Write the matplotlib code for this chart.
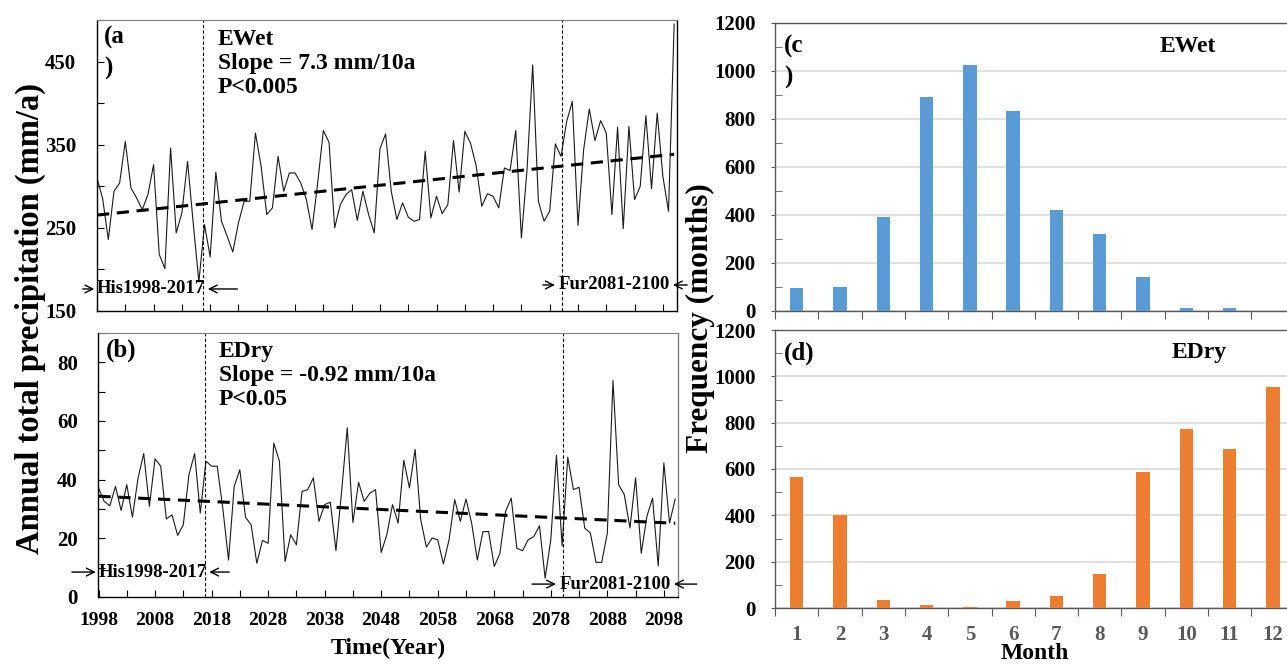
import numpy as np
import matplotlib
matplotlib.use("Agg")
import matplotlib.pyplot as plt
from matplotlib.ticker import MultipleLocator, FixedLocator, NullFormatter, FixedFormatter

plt.rcParams['font.family'] = ['Liberation Serif', 'DejaVu Serif']
plt.rcParams['font.weight'] = 'bold'
plt.rcParams['axes.labelweight'] = 'bold'

# ---- data ----
years = np.arange(1998, 2101)

wet = [310, 285, 236, 294, 304, 354, 298, 286, 272, 290,
       326, 218, 201, 346, 244, 268, 330, 256, 185, 254,
       215, 317, 258, 240, 221, 256, 282, 282, 364, 324,
       266, 274, 336, 294, 316, 316, 304, 284, 248, 304,
       367, 353, 250, 278, 290, 296, 259, 294, 266, 244,
       345, 363, 294, 260, 280, 263, 258, 260, 342, 262,
       288, 267, 278, 355, 293, 366, 352, 325, 276, 291,
       288, 274, 322, 319, 367, 238, 320, 446, 282, 258,
       270, 351, 336, 378, 402, 253, 344, 393, 355, 379,
       364, 266, 371, 249, 372, 284, 300, 385, 297, 388,
       312, 270, 495]

dry = [37.2, 32.6, 31.1, 37.7, 29.5, 38.3, 27.2, 40.6, 48.9, 30.9,
       47.1, 44.6, 26.6, 28.0, 21.0, 24.6, 41.7, 48.9, 28.6, 46.3,
       44.6, 44.6, 30.0, 12.6, 37.7, 43.4, 27.2, 24.6, 11.5, 19.3,
       18.3, 52.5, 46.3, 12.1, 21.2, 17.8, 36.0, 36.6, 40.6, 25.8,
       31.5, 32.3, 15.8, 36.0, 57.7, 25.4, 39.1, 32.6, 35.4, 36.6,
       15.2, 21.2, 31.5, 25.2, 46.6, 37.2, 50.3, 26.3, 17.0, 20.1,
       19.5, 11.3, 19.5, 33.2, 25.8, 33.4, 25.2, 12.6, 22.3, 22.3,
       10.4, 14.9, 29.2, 33.7, 16.6, 15.8, 19.5, 20.6, 24.3, 6.4,
       19.5, 48.3, 17.4, 47.7, 36.6, 37.4, 23.5, 21.8, 11.8, 11.8,
       21.8, 73.8, 38.3, 34.9, 23.5, 40.6, 14.9, 27.5, 33.7, 10.6,
       45.7, 25.2, 33.4]

months = np.arange(1, 13)
freq_wet = [97, 100, 393, 893, 1025, 832, 422, 320, 143, 13, 13, 0]
freq_dry = [565, 402, 33, 12, 3, 30, 53, 145, 587, 772, 688, 955]

W, H = 1287, 665
fig = plt.figure(figsize=(W / 100, H / 100), dpi=100)

ax_a = fig.add_axes([97 / W, 1 - 311 / H, 580 / W, 291 / H])
ax_b = fig.add_axes([98.5 / W, 1 - 597 / H, 579.5 / W, 264 / H])
ax_c = fig.add_axes([775 / W, 1 - 311 / H, 519.6 / W, 288 / H])
ax_d = fig.add_axes([775 / W, 1 - 608 / H, 519.6 / W, 278 / H])


def series_panel(ax, vals, ylim, major, minor, tag, txt, his_y, fur_y,
                 his_tail, fur_tail):
    ax.plot(years, vals, color='#1a1a1a', lw=0.8)
    k, b = np.polyfit(years, vals, 1)
    ax.plot(years, k * years + b, color='black', lw=2.2, ls=(0, (4, 2.5)))
    for xv in (2016.8, 2080.1):
        ax.axvline(xv, color='black', lw=0.8, ls=(0, (3, 2)))
    ax.set_xlim(1998, 2100.5)
    ax.set_ylim(*ylim)
    ax.xaxis.set_major_locator(FixedLocator(np.arange(1998, 2101, 10)))
    ax.xaxis.set_minor_locator(FixedLocator(np.arange(2003, 2101, 10)))
    ax.yaxis.set_major_locator(FixedLocator(major))
    ax.yaxis.set_minor_locator(MultipleLocator(minor))
    ax.tick_params(which='both', direction='in', length=5, width=0.8,
                   labelsize=15)
    ax.tick_params(axis='x', labelsize=14)
    ax.tick_params(axis='y', pad=15)
    for s in ('left', 'bottom', 'right'):
        ax.spines[s].set_linewidth(1.0)
    ax.spines['top'].set_color('#808080')
    ax.text(0.012, 0.98, tag, transform=ax.transAxes, fontsize=18,
            va='top', ha='left', linespacing=1.45)
    ax.text(0.208, 0.97, txt, transform=ax.transAxes, fontsize=17,
            va='top', ha='left', linespacing=1.2)
    # period markers
    kw = dict(arrowstyle='->', lw=1.0, color='black', mutation_scale=14)
    ax.text(1998, his_y, 'His1998-2017', fontsize=13.5, va='center', ha='left')
    ax.annotate('', xy=(1998, his_y), xytext=(his_tail[0], his_y),
                arrowprops=kw, annotation_clip=False)
    ax.annotate('', xy=(2017.1, his_y), xytext=(his_tail[1], his_y),
                arrowprops=kw, annotation_clip=False)
    ax.text(2079.6, fur_y, 'Fur2081-2100', fontsize=13.5, va='center', ha='left')
    ax.annotate('', xy=(2079.4, fur_y), xytext=(fur_tail[0], fur_y),
                arrowprops=kw, annotation_clip=False)
    ax.annotate('', xy=(2099.3, fur_y), xytext=(fur_tail[1], fur_y),
                arrowprops=kw, annotation_clip=False)


series_panel(ax_a, wet, (150, 500), [150, 250, 350, 450], 50, '(a\n)',
             'EWet\nSlope = 7.3 mm/10a\nP<0.005', 176.5, 181.3,
             (1995.0, 2023.3), (2076.3, 2102.8))
series_panel(ax_b, dry, (0, 90), [0, 20, 40, 60, 80], 10, '(b)',
             'EDry\nSlope = -0.92 mm/10a\nP<0.05', 8.5, 4.4,
             (1992.8, 2021.6), (2074.2, 2104.3))
ax_a.xaxis.set_major_formatter(NullFormatter())
ax_b.spines['right'].set_color('#808080')
ax_b.tick_params(axis='x', which='major', pad=11)
ax_b.set_xlabel('Time(Year)', fontsize=17, fontweight='bold', labelpad=6)

fig.text(30 / W, 1 - 318 / H, 'Annual total precipitation (mm/a)',
         rotation=90, fontsize=23.5, fontweight='bold',
         ha='center', va='center')


def bar_panel(ax, vals, color, tag, name, name_x):
    ax.bar(months, vals, width=0.31, color=color, zorder=3)
    ax.set_xlim(0.5, 12.5)
    ax.set_ylim(0, 1200)
    ax.yaxis.set_major_locator(MultipleLocator(200))
    ax.yaxis.set_minor_locator(MultipleLocator(100))
    ax.grid(axis='y', which='major', color='#d9d9d9', lw=1.2, zorder=0)
    ax.xaxis.set_major_locator(FixedLocator(np.arange(0.5, 13, 1)))
    ax.xaxis.set_major_formatter(NullFormatter())
    ax.xaxis.set_minor_locator(FixedLocator(months))
    ax.xaxis.set_minor_formatter(FixedFormatter([str(m) for m in months]))
    ax.tick_params(axis='x', which='major', direction='out', length=6,
                   color='#595959')
    ax.tick_params(axis='x', which='minor', length=0, pad=12, labelsize=15,
                   labelcolor='#595959')
    ax.tick_params(axis='y', which='major', direction='out', length=3,
                   color='#595959', labelsize=15, pad=11)
    ax.tick_params(axis='y', which='minor', direction='in', length=5,
                   color='#595959')
    for s in ax.spines.values():
        s.set_color('#595959')
        s.set_linewidth(1.0)
    ax.text(0.017, 0.96, tag, transform=ax.transAxes, fontsize=18,
            va='top', ha='left', linespacing=1.45)
    ax.text(name_x, 0.92, name, transform=ax.transAxes, fontsize=17,
            va='center', ha='left')


bar_panel(ax_c, freq_wet, '#5b9bd5', '(c\n)', 'EWet', 0.741)
bar_panel(ax_d, freq_dry, '#ed7d31', '(d)', 'EDry', 0.764)
ax_c.tick_params(axis='x', which='minor', labelbottom=False)
ax_d.set_xlabel('Month', fontsize=17, fontweight='bold', labelpad=-1)

fig.text(700 / W, 1 - 318 / H, 'Frequency (months)', rotation=90,
         fontsize=22.5, fontweight='bold', ha='center', va='center')

for ax in (ax_a, ax_b, ax_c, ax_d):
    for lab in (ax.get_xticklabels(which='both') +
                ax.get_yticklabels(which='both')):
        lab.set_fontweight('bold')

fig.savefig('out.png', dpi=100)
